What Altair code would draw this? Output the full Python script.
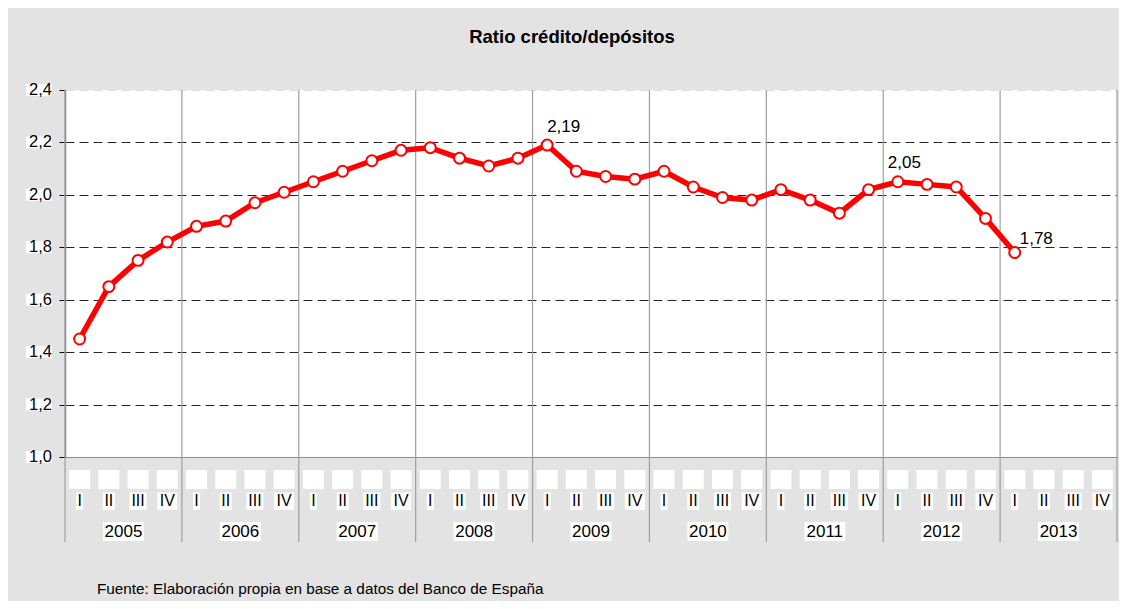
import altair as alt
import pandas as pd

# ---------------- data ----------------
years = ["2005", "2006", "2007", "2008", "2009", "2010", "2011", "2012", "2013"]
quarters = ["I", "II", "III", "IV"]
ratio = [1.45, 1.65, 1.75, 1.82,
         1.88, 1.90, 1.97, 2.01,
         2.05, 2.09, 2.13, 2.17,
         2.18, 2.14, 2.11, 2.14,
         2.19, 2.09, 2.07, 2.06,
         2.09, 2.03, 1.99, 1.98,
         2.02, 1.98, 1.93, 2.02,
         2.05, 2.04, 2.03, 1.91,
         1.78]
annotated = [16, 28, 32]          # points carrying a value label
y_ticks = [1.0, 1.2, 1.4, 1.6, 1.8, 2.0, 2.2, 2.4]
title_text = "Ratio crédito/depósitos"
source_text = "Fuente: Elaboración propia en base a datos del Banco de España"

# ---------------- styles ----------------
FONT = "Liberation Sans"
BG = "#e3e3e3"
RED = "#ff0000"
W, H = 1052, 367
label_offsets = {16: (0, -18), 28: (-10, -19), 32: (5, -14)}
q_box_half = {"I": 3.5, "II": 6, "III": 8.5, "IV": 10}

# ---------------- tables ----------------
slots = pd.DataFrame([
    {"year": y, "q": q, "pos": i * 4 + j + 0.5}
    for i, y in enumerate(years) for j, q in enumerate(quarters)
])
series = slots.iloc[:len(ratio)].copy()
series["ratio"] = ratio
series["idx"] = range(len(ratio))
series["label"] = [format(v, ".2f").replace(".", ",") for v in ratio]

year_df = pd.DataFrame({"year": years, "pos": [i * 4 + 2 for i in range(len(years))]})
bounds = pd.DataFrame({"pos": [i * 4 for i in range(len(years) + 1)]})
ytick_df = pd.DataFrame({"ratio": y_ticks,
                         "lab": [format(v, ".1f").replace(".", ",") for v in y_ticks]})

xs = alt.Scale(domain=[0, len(years) * 4], nice=False, zero=False)
ys = alt.Scale(domain=[1.0, 2.4], nice=False, zero=False)
x_axis = alt.Axis(title=None, labels=False, ticks=False, grid=False,
                  domainColor="#8c8c8c", domainWidth=1)
y_axis = alt.Axis(title=None, labels=False, values=y_ticks, ticks=True, tickSize=6,
                  tickColor="#000000", tickWidth=1, domainColor="#7f7f7f", domainWidth=1.5,
                  grid=True,
                  gridColor=alt.condition(alt.datum.value >= 2.39,
                                          alt.value("#d9d9d9"), alt.value("#000000")),
                  gridDash=[9, 5], gridWidth=1, gridOpacity=0.85)


def X():
    return alt.X("pos:Q", scale=xs, axis=x_axis)


def Y():
    return alt.Y("ratio:Q", scale=ys, axis=y_axis)


layers = []

# year separators (extend below the plot through the label area)
layers.append(
    alt.Chart(bounds).mark_rule(color="#9e9e9e", strokeWidth=1.2).encode(
        x=X(), y=alt.value(0), y2=alt.value(452))
)

# line + points
layers.append(
    alt.Chart(series).mark_line(color=RED, strokeWidth=5.5).encode(x=X(), y=Y())
)
layers.append(
    alt.Chart(series).mark_point(filled=True, fill="white", stroke=RED, strokeWidth=2,
                                 size=120, opacity=1, shape="circle").encode(x=X(), y=Y())
)

# value labels
for i in annotated:
    dx, dy = label_offsets[i]
    layers.append(
        alt.Chart(series).transform_filter(alt.datum.idx == i).mark_text(
            align="left", baseline="middle", dx=dx, dy=dy, font=FONT, fontSize=17,
            color="#000000").encode(x=X(), y=Y(), text="label:N")
    )

# y tick labels with white boxes
layers.append(
    alt.Chart(ytick_df).mark_rect(color="white", yOffset=-6, y2Offset=6).encode(
        x=alt.value(-39), x2=alt.value(-13), y=Y(), y2="ratio:Q")
)
layers.append(
    alt.Chart(ytick_df).mark_text(align="right", baseline="middle", font=FONT, fontSize=16.5,
                                  color="#000000").encode(
        x=alt.value(-13), y=Y(), text="lab:N")
)

# quarter white boxes
layers.append(
    alt.Chart(slots).mark_rect(color="white", xOffset=-10.5, x2Offset=10.5).encode(
        x=X(), x2="pos:Q", y=alt.value(380), y2=alt.value(399))
)
# quarter label boxes and texts
for q in quarters:
    hw = q_box_half[q]
    layers.append(
        alt.Chart(slots).transform_filter(alt.datum.q == q).mark_rect(
            color="white", xOffset=-hw, x2Offset=hw).encode(
            x=X(), x2="pos:Q", y=alt.value(402.5), y2=alt.value(420))
    )
layers.append(
    alt.Chart(slots).mark_text(baseline="middle", font=FONT, fontSize=16,
                               color="#000000").encode(
        x=X(), y=alt.value(411), text="q:N")
)

# year label boxes and texts
layers.append(
    alt.Chart(year_df).mark_rect(color="white", xOffset=-20.5, x2Offset=20.5).encode(
        x=X(), x2="pos:Q", y=alt.value(432), y2=alt.value(451))
)
layers.append(
    alt.Chart(year_df).mark_text(baseline="middle", font=FONT, fontSize=17,
                                 color="#000000").encode(
        x=X(), y=alt.value(441.5), text="year:N")
)

# title and source
layers.append(
    alt.Chart(pd.DataFrame({"t": [title_text]})).mark_text(
        baseline="middle", font=FONT, fontSize=18.5, fontWeight="bold",
        color="#000000").encode(x=alt.value(507), y=alt.value(-53), text="t:N")
)
layers.append(
    alt.Chart(pd.DataFrame({"t": [source_text]})).mark_text(
        align="left", baseline="middle", font=FONT, fontSize=15.3,
        color="#000000").encode(x=alt.value(32), y=alt.value(499), text="t:N")
)

chart = alt.layer(*layers).properties(
    width=W, height=H,
    padding={"left": 57, "top": 82, "right": 2, "bottom": 144},
    autosize=alt.AutoSizeParams(type="none"),
    background=BG,
).configure_view(fill="white", stroke=None)

chart.save("out.html", embed_options={"renderer": "svg", "actions": False})
